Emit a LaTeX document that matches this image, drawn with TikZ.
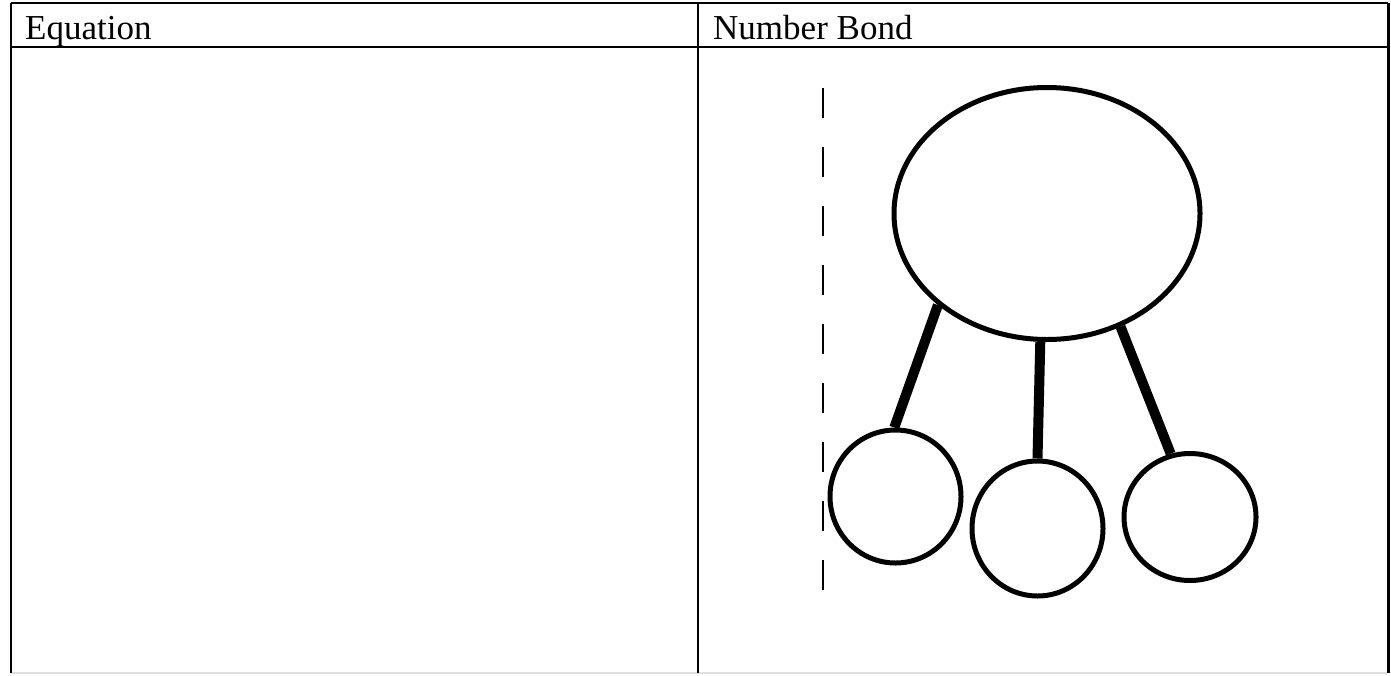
\documentclass[tikz,border=0pt]{standalone}
\usepackage{fontspec}
\setmainfont{Liberation Serif}
\usetikzlibrary{shapes.geometric}
\tikzset{
  rule/.style={line width=2pt, black},
  faintrule/.style={line width=2pt, black!12},
  head/.style={anchor=base west, inner sep=0pt, font=\fontsize{35}{40}\selectfont},
  bondshape/.style={draw, ellipse, line width=5pt, inner sep=0pt},
  bondlink/.style={line width=10pt},
  guide/.style={line width=1.8pt, dash pattern=on 30pt off 29pt}
}
\begin{document}
\begin{tikzpicture}[x=1pt,y=-1pt]
\useasboundingbox (0,0) rectangle (1391,675);
% table frame
\coordinate (tl) at (11,3);
\coordinate (tr) at (1388,3);
\coordinate (bl) at (11,673);
\coordinate (br) at (1388,673);
\coordinate (dt) at (698,3);
\coordinate (db) at (698,673);
\coordinate (hl) at (11,47);
\coordinate (hr) at (1388,47);
\draw[faintrule] (bl) -- (br);
\draw[rule] (tl) -- (tr);
\draw[rule] (tl) -- (bl);
\draw[rule, line width=3pt] (tr) -- (br);
\draw[rule] (dt) -- (db);
\draw[rule] (hl) -- (hr);
% headers
\node[head] (eq) at (25,39) {Equation};
\node[head] (nb) at (713,39) {Number Bond};
% dashed guide
\coordinate (g1) at (823,88);
\coordinate (g2) at (823,593);
\draw[guide] (g1) -- (g2);
% number bond
\node[bondshape, minimum width=306pt, minimum height=252pt] (big) at (1047,213.5) {};
\node[bondshape, minimum width=131pt, minimum height=133pt] (c1) at (895.5,496.5) {};
\node[bondshape, minimum width=131pt, minimum height=135pt] (c2) at (1037.5,528.5) {};
\node[bondshape, minimum width=132pt, minimum height=127pt] (c3) at (1190,517) {};
\draw[bondlink] (big.220) -- (c1.91);
\draw[bondlink] (big.267) -- (c2.90);
\draw[bondlink] (big.303) -- (c3.107);
\end{tikzpicture}
\end{document}
